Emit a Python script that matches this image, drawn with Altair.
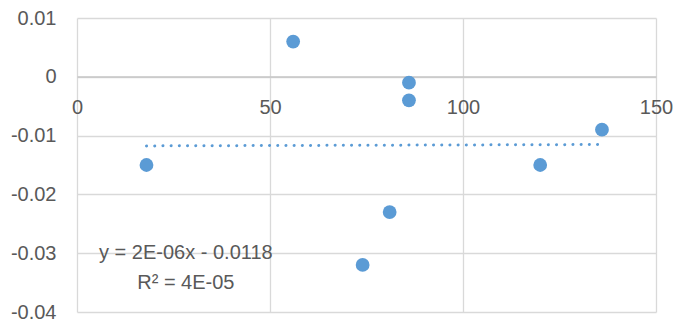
import altair as alt
import pandas as pd

x_vals = [18, 56, 74, 81, 86, 86, 120, 136]
y_vals = [-0.015, 0.006, -0.032, -0.023, -0.001, -0.004, -0.015, -0.009]

eq_lines = ["y = 2E-06x - 0.0118", "R² = 4E-05"]
eq_x = [28.2, 28.2]
eq_y = [-0.0300, -0.0351]

x_ticks = [0, 50, 100, 150]
y_ticks = [0.01, 0, -0.01, -0.02, -0.03, -0.04]

df = pd.DataFrame({"x": x_vals, "y": y_vals})
eq_df = pd.DataFrame({"t": eq_lines, "x": eq_x, "y": eq_y})

FONT = "Liberation Sans"
BLUE = "#5b9bd5"
GRID = "#d9d9d9"
TXT = "#595959"

xscale = alt.Scale(domain=[0, 150], nice=False, zero=False)
yscale = alt.Scale(domain=[-0.04, 0.01], nice=False, zero=False)

x_enc = alt.X(
    "x:Q",
    scale=xscale,
    axis=alt.Axis(
        values=x_ticks, title=None, grid=True, gridColor=GRID, gridWidth=1.3,
        domain=True, domainColor="#c6c6c6", domainWidth=1.3, ticks=False,
        labelFont=FONT, labelFontSize=20, labelColor=TXT, labelPadding=21,
        offset=-235.5, labelFlush=False, labelOverlap=False,
    ),
)
y_enc = alt.Y(
    "y:Q",
    scale=yscale,
    axis=alt.Axis(
        values=y_ticks, title=None, grid=True, gridColor=GRID, gridWidth=1.3,
        domain=False, ticks=False, labelFont=FONT, labelFontSize=20,
        labelColor=TXT, labelPadding=21, labelFlush=False,
        labelOverlap=False,
        labelExpr="replace(format(datum.value, '~g'), '\u2212', '-')",
    ),
)

trend = alt.Chart(df).transform_regression("x", "y").mark_line(
    color=BLUE, strokeWidth=3, strokeDash=[0.1, 8.1], strokeCap="round"
).encode(x=alt.X("x:Q", scale=xscale), y=alt.Y("y:Q", scale=yscale))

points = alt.Chart(df).mark_circle(size=190, color=BLUE, opacity=1).encode(
    x=x_enc, y=y_enc
)

eq = alt.Chart(eq_df).mark_text(
    font=FONT, fontSize=20, color=TXT, align="center", baseline="middle"
).encode(x=alt.X("x:Q", scale=xscale), y=alt.Y("y:Q", scale=yscale), text="t:N")

chart = alt.layer(points, trend, eq).properties(
    width=579, height=294,
    autosize=alt.AutoSizeParams(type="none"),
    padding={"left": 77, "top": 18, "right": 23, "bottom": 13},
    background="white",
).configure_view(strokeWidth=0)

chart.save("out.html", embed_options={"renderer": "svg", "actions": False})
